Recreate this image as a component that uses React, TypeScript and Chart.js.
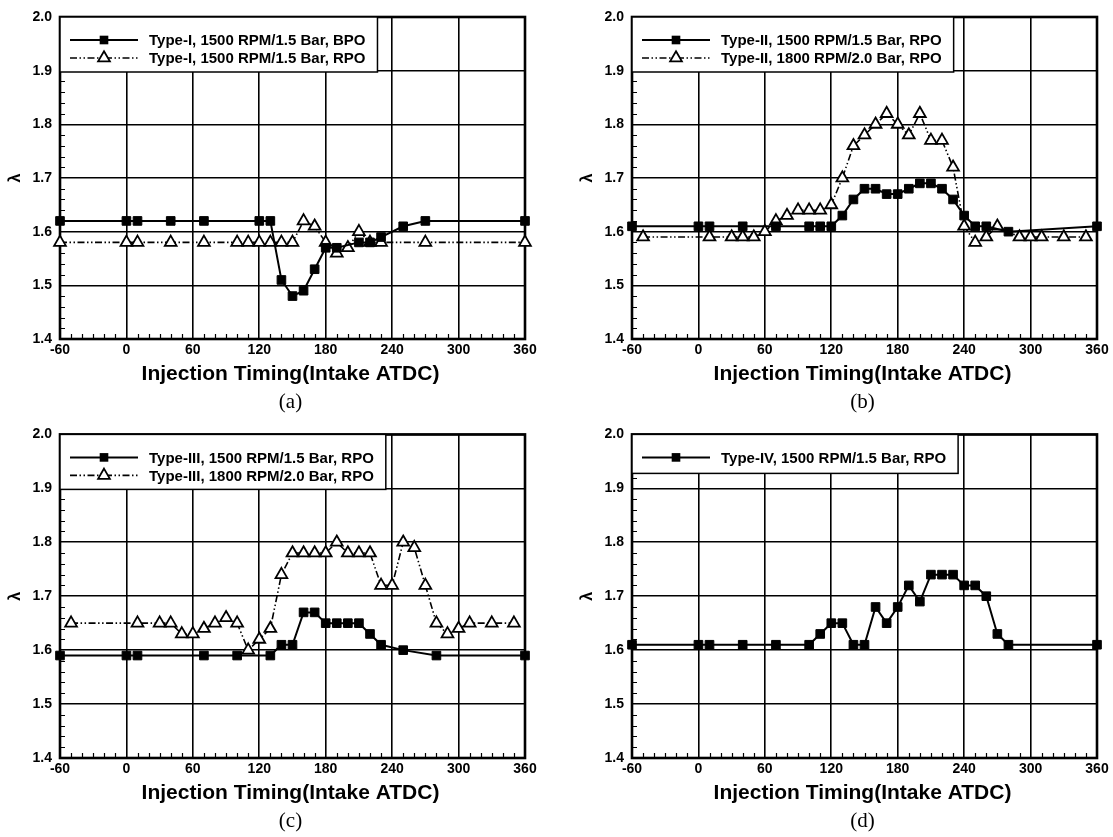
import React, { useEffect, useRef } from "react";
import { Chart, registerables } from "chart.js";

Chart.register(...registerables);

// Shared axes: injection timing (deg, intake ATDC) vs excess air ratio
const X_TICKS = [-60, 0, 60, 120, 180, 240, 300, 360];
const Y_TICKS = [1.4, 1.5, 1.6, 1.7, 1.8, 1.9, 2.0];
const X_MIN = -60;
const X_MAX = 360;
const Y_MIN = 1.4;
const Y_MAX = 2.0;
const X_MINOR_STEP = 10;
const Y_MINOR_STEP = 0.02;

const X_TITLE = "Injection Timing(Intake ATDC)";
const Y_TITLE = "λ";

// (a) Type-I
const typeIBpoLabel = "Type-I, 1500 RPM/1.5 Bar, BPO";
const typeIBpoTiming = [-60, 0, 10, 40, 70, 120, 130, 140, 150, 160, 170, 180, 190, 210, 220, 230, 250, 270, 360];
const typeIBpoLambda = [1.62, 1.62, 1.62, 1.62, 1.62, 1.62, 1.62, 1.51, 1.48, 1.49, 1.53, 1.57, 1.57, 1.58, 1.58, 1.59, 1.61, 1.62, 1.62];
const typeIRpoLabel = "Type-I, 1500 RPM/1.5 Bar, RPO";
const typeIRpoTiming = [-60, 0, 10, 40, 70, 100, 110, 120, 130, 140, 150, 160, 170, 180, 190, 200, 210, 220, 230, 270, 360];
const typeIRpoLambda = [1.58, 1.58, 1.58, 1.58, 1.58, 1.58, 1.58, 1.58, 1.58, 1.58, 1.58, 1.62, 1.61, 1.58, 1.56, 1.57, 1.6, 1.58, 1.58, 1.58, 1.58];

// (b) Type-II
const typeII1500Label = "Type-II, 1500 RPM/1.5 Bar, RPO";
const typeII1500Timing = [-60, 0, 10, 40, 70, 100, 110, 120, 130, 140, 150, 160, 170, 180, 190, 200, 210, 220, 230, 240, 250, 260, 280, 360];
const typeII1500Lambda = [1.61, 1.61, 1.61, 1.61, 1.61, 1.61, 1.61, 1.61, 1.63, 1.66, 1.68, 1.68, 1.67, 1.67, 1.68, 1.69, 1.69, 1.68, 1.66, 1.63, 1.61, 1.61, 1.6, 1.61];
const typeII1800Label = "Type-II, 1800 RPM/2.0 Bar, RPO";
const typeII1800Timing = [-50, 10, 30, 40, 50, 60, 70, 80, 90, 100, 110, 120, 130, 140, 150, 160, 170, 180, 190, 200, 210, 220, 230, 240, 250, 260, 270, 290, 300, 310, 330, 350];
const typeII1800Lambda = [1.59, 1.59, 1.59, 1.59, 1.59, 1.6, 1.62, 1.63, 1.64, 1.64, 1.64, 1.65, 1.7, 1.76, 1.78, 1.8, 1.82, 1.8, 1.78, 1.82, 1.77, 1.77, 1.72, 1.61, 1.58, 1.59, 1.61, 1.59, 1.59, 1.59, 1.59, 1.59];

// (c) Type-III
const typeIII1500Label = "Type-III, 1500 RPM/1.5 Bar, RPO";
const typeIII1500Timing = [-60, 0, 10, 70, 100, 130, 140, 150, 160, 170, 180, 190, 200, 210, 220, 230, 250, 280, 360];
const typeIII1500Lambda = [1.59, 1.59, 1.59, 1.59, 1.59, 1.59, 1.61, 1.61, 1.67, 1.67, 1.65, 1.65, 1.65, 1.65, 1.63, 1.61, 1.6, 1.59, 1.59];
const typeIII1800Label = "Type-III, 1800 RPM/2.0 Bar, RPO";
const typeIII1800Timing = [-50, 10, 30, 40, 50, 60, 70, 80, 90, 100, 110, 120, 130, 140, 150, 160, 170, 180, 190, 200, 210, 220, 230, 240, 250, 260, 270, 280, 290, 300, 310, 330, 350];
const typeIII1800Lambda = [1.65, 1.65, 1.65, 1.65, 1.63, 1.63, 1.64, 1.65, 1.66, 1.65, 1.6, 1.62, 1.64, 1.74, 1.78, 1.78, 1.78, 1.78, 1.8, 1.78, 1.78, 1.78, 1.72, 1.72, 1.8, 1.79, 1.72, 1.65, 1.63, 1.64, 1.65, 1.65, 1.65];

// (d) Type-IV
const typeIVLabel = "Type-IV, 1500 RPM/1.5 Bar, RPO";
const typeIVTiming = [-60, 0, 10, 40, 70, 100, 110, 120, 130, 140, 150, 160, 170, 180, 190, 200, 210, 220, 230, 240, 250, 260, 270, 280, 360];
const typeIVLambda = [1.61, 1.61, 1.61, 1.61, 1.61, 1.61, 1.63, 1.65, 1.65, 1.61, 1.61, 1.68, 1.65, 1.68, 1.72, 1.69, 1.74, 1.74, 1.74, 1.72, 1.72, 1.7, 1.63, 1.61, 1.61];

const SANS = '"Liberation Sans", Arial, Helvetica, sans-serif';
const SERIF = '"Liberation Serif", "Times New Roman", serif';
const DASH_DOT_DOT = [7, 2.5, 1.5, 2.5, 1.5, 2.5];

type Kind = "square" | "triangle";
type Series = { label: string; timing: number[]; lambda: number[]; kind: Kind };
type Box = { left: number; top: number; width: number; height: number };
type Area = { left: number; top: number; right: number; bottom: number };

const TRI_RADIUS = 6.8;
const TRI_STROKE = 1.8;
const SQ_RADIUS = 6.1;

function drawMarker(ctx: CanvasRenderingContext2D, kind: Kind, x: number, y: number) {
  ctx.save();
  ctx.setLineDash([]);
  ctx.strokeStyle = "#000";
  if (kind === "square") {
    const s = SQ_RADIUS * Math.SQRT1_2;
    ctx.fillStyle = "#000";
    ctx.fillRect(x - s, y - s, 2 * s, 2 * s);
  } else {
    ctx.beginPath();
    for (let i = 0; i < 3; i++) {
      const a = -Math.PI / 2 + (i * 2 * Math.PI) / 3;
      const px = x + Math.cos(a) * TRI_RADIUS;
      const py = y + Math.sin(a) * TRI_RADIUS;
      if (i === 0) ctx.moveTo(px, py);
      else ctx.lineTo(px, py);
    }
    ctx.closePath();
    ctx.fillStyle = "#fff";
    ctx.fill();
    ctx.lineWidth = TRI_STROKE;
    ctx.stroke();
  }
  ctx.restore();
}

function Panel({ box, area, series, tag }: { box: Box; area: Area; series: Series[]; tag: string }) {
  const ref = useRef<HTMLCanvasElement | null>(null);

  useEffect(() => {
    const canvas = ref.current;
    if (!canvas) return;

    const padTop = area.top - box.top;
    const padRight = box.width - (area.right - box.left);
    const yAxisWidth = area.left - box.left;
    const xAxisHeight = box.height - (area.bottom - box.top);

    const decor = {
      id: "panelDecor",
      beforeDatasetsDraw(chart: any) {
        const { ctx, chartArea } = chart;
        const { left, top, right, bottom } = chartArea;
        const xs = chart.scales.x;
        const ys = chart.scales.y;
        ctx.save();
        ctx.strokeStyle = "#000";
        ctx.lineWidth = 1.2;
        ctx.beginPath();
        for (let v = X_MIN + X_MINOR_STEP; v < X_MAX; v += X_MINOR_STEP) {
          if (X_TICKS.includes(v)) continue;
          const px = Math.round(xs.getPixelForValue(v)) + 0.5;
          ctx.moveTo(px, bottom);
          ctx.lineTo(px, bottom - 5);
        }
        const nMinor = Math.round((Y_MAX - Y_MIN) / Y_MINOR_STEP);
        for (let i = 1; i < nMinor; i++) {
          if (i % 5 === 0) continue;
          const py = Math.round(ys.getPixelForValue(Y_MIN + i * Y_MINOR_STEP)) + 0.5;
          ctx.moveTo(left, py);
          ctx.lineTo(left + 5, py);
        }
        ctx.stroke();
        ctx.lineWidth = 2.6;
        ctx.strokeRect(left, top, right - left, bottom - top);
        ctx.restore();
      },
      afterDatasetsDraw(chart: any) {
        const { ctx, chartArea } = chart;
        const { left, top } = chartArea;
        ctx.save();
        ctx.font = `bold 15px ${SANS}`;
        const textX = left + 89;
        const maxW = Math.max(...series.map((s) => ctx.measureText(s.label).width));
        const boxRight = textX + maxW + 12;
        const boxBottom = top + (series.length > 1 ? 55 : 39);
        ctx.fillStyle = "#fff";
        ctx.fillRect(left, top, boxRight - left, boxBottom - top);
        ctx.strokeStyle = "#000";
        ctx.lineWidth = 1.5;
        ctx.strokeRect(left, top, boxRight - left, boxBottom - top);
        series.forEach((s, i) => {
          const ry = top + 23 + i * 18;
          ctx.save();
          ctx.strokeStyle = "#000";
          ctx.lineWidth = s.kind === "square" ? 2 : 1.6;
          ctx.setLineDash(s.kind === "square" ? [] : DASH_DOT_DOT);
          ctx.beginPath();
          ctx.moveTo(left + 10, ry);
          ctx.lineTo(left + 78, ry);
          ctx.stroke();
          ctx.restore();
          drawMarker(ctx, s.kind, left + 44, ry);
          ctx.fillStyle = "#000";
          ctx.textAlign = "left";
          ctx.textBaseline = "middle";
          ctx.fillText(s.label, textX, ry + 1);
        });
        ctx.restore();
      },
      afterDraw(chart: any) {
        const { ctx, chartArea } = chart;
        const { left, top, right, bottom } = chartArea;
        const cx = (left + right) / 2;
        ctx.save();
        ctx.fillStyle = "#000";
        ctx.textAlign = "center";
        ctx.textBaseline = "middle";
        ctx.font = `bold 21px ${SANS}`;
        ctx.fillText(X_TITLE, cx - 2, bottom + 35);
        ctx.font = `21px ${SERIF}`;
        ctx.fillText(tag, cx - 2, bottom + 63);
        ctx.save();
        ctx.translate(left - 44, (top + bottom) / 2);
        ctx.rotate(-Math.PI / 2);
        ctx.font = `bold 16px ${SANS}`;
        ctx.fillText(Y_TITLE, 0, 0);
        ctx.restore();
        ctx.restore();
      },
    };

    const chart = new Chart(canvas, {
      type: "line",
      data: {
        datasets: series.map((s) => ({
          label: s.label,
          data: s.timing.map((t, i) => ({ x: t, y: s.lambda[i] })),
          borderColor: "#000",
          borderWidth: s.kind === "square" ? 2 : 1.6,
          borderDash: s.kind === "square" ? [] : DASH_DOT_DOT,
          pointStyle: s.kind === "square" ? "rect" : "triangle",
          pointRadius: s.kind === "square" ? SQ_RADIUS : TRI_RADIUS,
          pointBackgroundColor: s.kind === "square" ? "#000" : "#fff",
          pointBorderColor: "#000",
          pointBorderWidth: s.kind === "square" ? 1 : TRI_STROKE,
          fill: false,
          tension: 0,
          clip: false as any,
          showLine: true,
        })),
      },
      options: {
        responsive: false,
        animation: false,
        events: [],
        layout: { padding: { left: 0, top: padTop, right: padRight, bottom: 0 } },
        plugins: {
          legend: { display: false },
          tooltip: { enabled: false },
          title: { display: false },
        },
        scales: {
          x: {
            type: "linear",
            min: X_MIN,
            max: X_MAX,
            afterBuildTicks: (scale: any) => {
              scale.ticks = X_TICKS.map((v) => ({ value: v }));
            },
            afterFit: (scale: any) => {
              scale.height = xAxisHeight;
            },
            ticks: {
              autoSkip: false,
              maxRotation: 0,
              padding: 3,
              color: "#000",
              font: { family: SANS, size: 14, weight: "bold" },
              callback: (v: any) => String(v),
            },
            grid: { color: "#000", lineWidth: 1.6, drawTicks: false },
            border: { display: false },
          },
          y: {
            type: "linear",
            min: Y_MIN,
            max: Y_MAX,
            afterBuildTicks: (scale: any) => {
              scale.ticks = Y_TICKS.map((v) => ({ value: v }));
            },
            afterFit: (scale: any) => {
              scale.width = yAxisWidth;
            },
            ticks: {
              autoSkip: false,
              padding: 8,
              color: "#000",
              font: { family: SANS, size: 14, weight: "bold" },
              callback: (v: any) => Number(v).toFixed(1),
            },
            grid: { color: "#000", lineWidth: 1.6, drawTicks: false },
            border: { display: false },
          },
        },
      } as any,
      plugins: [decor],
    });

    return () => chart.destroy();
  }, []);

  return (
    <canvas
      ref={ref}
      width={box.width}
      height={box.height}
      style={{ position: "absolute", left: box.left, top: box.top, width: box.width, height: box.height }}
    />
  );
}

const panelA: Series[] = [
  { label: typeIBpoLabel, timing: typeIBpoTiming, lambda: typeIBpoLambda, kind: "square" },
  { label: typeIRpoLabel, timing: typeIRpoTiming, lambda: typeIRpoLambda, kind: "triangle" },
];
const panelB: Series[] = [
  { label: typeII1500Label, timing: typeII1500Timing, lambda: typeII1500Lambda, kind: "square" },
  { label: typeII1800Label, timing: typeII1800Timing, lambda: typeII1800Lambda, kind: "triangle" },
];
const panelC: Series[] = [
  { label: typeIII1500Label, timing: typeIII1500Timing, lambda: typeIII1500Lambda, kind: "square" },
  { label: typeIII1800Label, timing: typeIII1800Timing, lambda: typeIII1800Lambda, kind: "triangle" },
];
const panelD: Series[] = [{ label: typeIVLabel, timing: typeIVTiming, lambda: typeIVLambda, kind: "square" }];

export default function App() {
  return (
    <div style={{ position: "absolute", left: 0, top: 0, width: 1113, height: 837, background: "#fff", overflow: "hidden" }}>
      <Panel box={{ left: 0, top: 0, width: 556, height: 418 }} area={{ left: 60, top: 17, right: 525, bottom: 339 }} series={panelA} tag="(a)" />
      <Panel box={{ left: 556, top: 0, width: 557, height: 418 }} area={{ left: 632, top: 17, right: 1097, bottom: 339 }} series={panelB} tag="(b)" />
      <Panel box={{ left: 0, top: 418, width: 556, height: 419 }} area={{ left: 60, top: 434, right: 525, bottom: 758 }} series={panelC} tag="(c)" />
      <Panel box={{ left: 556, top: 418, width: 557, height: 419 }} area={{ left: 632, top: 434, right: 1097, bottom: 758 }} series={panelD} tag="(d)" />
    </div>
  );
}
